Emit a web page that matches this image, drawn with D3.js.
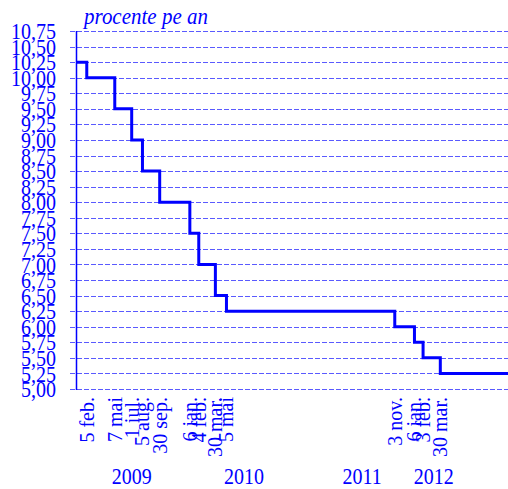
<!DOCTYPE html>
<html>
<head>
<meta charset="utf-8">
<script src="https://cdn.jsdelivr.net/npm/d3@7"></script>
<style>
    body { margin: 0; background: white; }
    #chart text { font-family: "Liberation Serif", "Times New Roman", serif; fill: #0000ff; }
</style>
</head>
<body>
<svg id="chart"></svg>
<script>
// dobanda de politica monetara - data schimbarii si nivelul nou
const changeDates = ["2009-01-01", "2009-02-05", "2009-05-07", "2009-07-01", "2009-08-05", "2009-09-30",
    "2010-01-06", "2010-02-04", "2010-03-30", "2010-05-05",
    "2011-11-03", "2012-01-06", "2012-02-03", "2012-03-30"];
const rates = [10.25, 10.00, 9.50, 9.00, 8.50, 8.00, 7.50, 7.00, 6.50, 6.25, 6.00, 5.75, 5.50, 5.25];

const dateLabels = ["5 feb.", "7 mai", "1 iul.", "5 aug.", "30 sep.", "6 ian.", "4 feb.", "30 mar.", "5 mai",
    "3 nov.", "6 ian.", "3 feb.", "30 mar."];

const yearLabels = ["2009", "2010", "2011", "2012"];
const yearLabelDates = ["2009-07-01", "2010-07-01", "2011-07-20", "2012-03-09"];

const yTicks = [];
for (let v = 5.00; v <= 10.75; v += 0.25) { yTicks.push(+v.toFixed(2)); }

const domainStart = "2009-01-01";
const domainEnd = "2012-11-05";

const width = 508;
const height = 489;
const margin = {left: 76, right: 0, top: 31, bottom: 100};
const stretch = 1.12; // textul din original e putin alungit pe verticala

const parse = d3.timeParse("%Y-%m-%d");
const fmt = v => v.toFixed(2).replace(".", ",");

const svg = d3.select("#chart")
    .attr("width", width)
    .attr("height", height);

const x = d3.scaleTime()
    .domain([parse(domainStart), parse(domainEnd)])
    .range([margin.left, width - margin.right]);

const y = d3.scaleLinear()
    .domain([5, 10.75])
    .range([height - margin.bottom, margin.top]);

// linii de grila punctate
svg.append("g")
    .selectAll("line")
    .data(yTicks)
    .enter().append("line")
    .attr("x1", margin.left - 6)
    .attr("x2", width)
    .attr("y1", d => Math.round(y(d)) + 0.5)
    .attr("y2", d => Math.round(y(d)) + 0.5)
    .attr("stroke", "#5a5aff")
    .attr("stroke-width", 1)
    .attr("stroke-dasharray", "5,2");

// axa verticala
svg.append("line")
    .attr("x1", margin.left + 0.5)
    .attr("x2", margin.left + 0.5)
    .attr("y1", Math.round(y(10.75)))
    .attr("y2", Math.round(y(5)) + 1)
    .attr("stroke", "#0000ff")
    .attr("stroke-width", 1.5);

svg.append("g")
    .selectAll("text")
    .data(yTicks)
    .enter().append("text")
    .attr("transform", d => `translate(56,${y(d)}) scale(1,${stretch})`)
    .attr("dy", "0.36em")
    .attr("text-anchor", "end")
    .style("font-size", "20px")
    .text(d => fmt(d));

svg.append("text")
    .attr("transform", `translate(84,24) scale(1,${stretch})`)
    .style("font-size", "21px")
    .style("font-style", "italic")
    .text("procente pe an");

// treptele
const points = changeDates.map((d, i) => ({date: parse(d), rate: rates[i]}));
points.push({date: parse(domainEnd), rate: rates[rates.length - 1]});

const stepLine = d3.line()
    .x(d => x(d.date))
    .y(d => y(d.rate))
    .curve(d3.curveStepAfter);

svg.append("path")
    .datum(points)
    .attr("d", stepLine)
    .attr("fill", "none")
    .attr("stroke", "#0000ff")
    .attr("stroke-width", 3);

// etichete date, rotite
const labelTop = y(5) + 8;
svg.append("g")
    .selectAll("text")
    .data(dateLabels)
    .enter().append("text")
    .attr("transform", (d, i) => `translate(${x(parse(changeDates[i + 1]))},${labelTop}) rotate(-90)`)
    .attr("dy", "0.35em")
    .attr("text-anchor", "end")
    .style("font-size", "20px")
    .text(d => d);

svg.append("g")
    .selectAll("text")
    .data(yearLabels)
    .enter().append("text")
    .attr("transform", (d, i) => `translate(${x(parse(yearLabelDates[i]))},484) scale(1,${stretch})`)
    .attr("text-anchor", "middle")
    .style("font-size", "20px")
    .text(d => d);
</script>
</body>
</html>
